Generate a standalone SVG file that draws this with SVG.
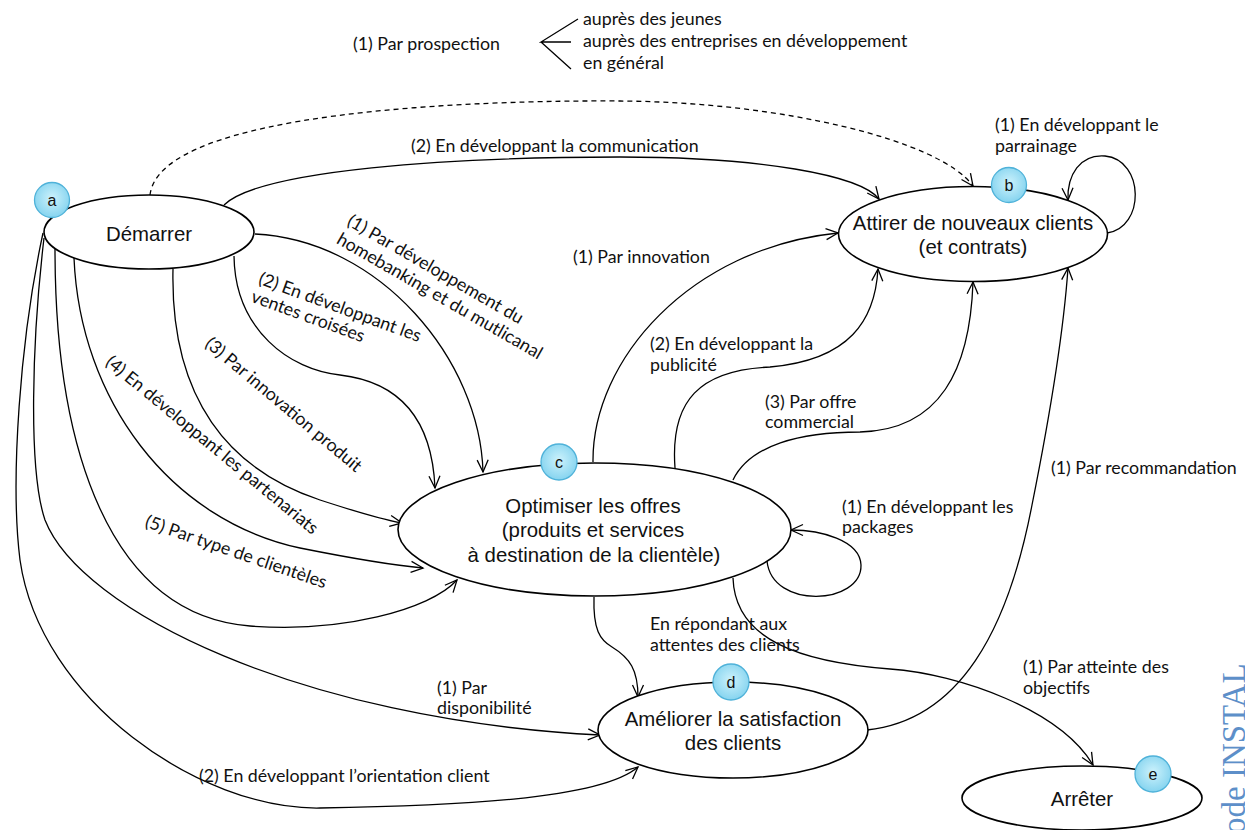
<svg xmlns="http://www.w3.org/2000/svg" width="1245" height="830" viewBox="0 0 1245 830">
  <defs>
    <style>
      .edge { fill: none; stroke: #000; stroke-width: 1.3; }
      .dash { stroke-dasharray: 5 4; }
      .node ellipse { fill: #fff; stroke: #000; stroke-width: 1.6; }
      .ntext { font-family: "Liberation Sans", Arial, sans-serif; font-size: 20.4px; fill: #111; text-anchor: middle; }
      .badge circle { fill: url(#cg); stroke: #4fb2d9; stroke-width: 1.3; }
      .badge text { font-family: "Liberation Sans", Arial, sans-serif; font-size: 16px; fill: #111; text-anchor: middle; }
      .lbl { font-family: Lato, "Open Sans", sans-serif; font-size: 17.8px; fill: #111; }
      .wm { font-family: "Liberation Serif", "Times New Roman", serif; font-size: 33px; fill: #5d8fc9; }
    </style>
    <radialGradient id="cg" cx="50%" cy="45%" r="60%">
      <stop offset="0" stop-color="#cdf2fc"/>
      <stop offset="1" stop-color="#7fd1ee"/>
    </radialGradient>
    <marker id="arr" markerUnits="userSpaceOnUse" markerWidth="14" markerHeight="12" refX="12" refY="6" orient="auto" overflow="visible">
      <path d="M0,0.5 L12,6 L0,11.5" fill="none" stroke="#000" stroke-width="1.3"/>
    </marker>
  </defs>

  <rect width="1245" height="830" fill="#fff"/>

  <!-- prospection note -->
  <g id="prospection">
    <text class="lbl" x="353" y="50">(1) Par prospection</text>
    <path class="edge" d="M578,19 L541,42 L571,42 M541,42 L571,69"/>
    <text class="lbl" x="583" y="25">auprès des jeunes</text>
    <text class="lbl" x="583" y="47">auprès des entreprises en développement</text>
    <text class="lbl" x="583" y="68.5">en général</text>
  </g>

  <!-- connectors -->
  <g id="connectors">
    <path class="edge dash" marker-end="url(#arr)" d="M150,195 C160,110 480,100 620,101 C780,102 940,140 973,186"/>
    <path class="edge" marker-end="url(#arr)" d="M224,205 C260,170 450,157 620,157 C760,157 860,175 879,199"/>
    <path class="edge" marker-end="url(#arr)" d="M1107,233 C1145,228 1145,160 1105,156 C1080,154 1067,175 1068,200"/>
    <path class="edge" marker-end="url(#arr)" d="M593,462 C592,360 690,248 838,233"/>
    <path class="edge" marker-end="url(#arr)" d="M675,468 C670,400 700,370 770,367 C850,360 875,320 878,269"/>
    <path class="edge" marker-end="url(#arr)" d="M733,480 C750,445 800,432 860,432 C940,430 970,370 973,282"/>
    <path class="edge" marker-end="url(#arr)" d="M867,730 C960,720 1008,630 1032,505 C1045,440 1063,340 1068,268"/>
    <path class="edge" marker-end="url(#arr)" d="M767,561 C772,610 862,605 861,565 C860,540 820,530 791,530"/>
    <path class="edge" marker-end="url(#arr)" d="M594,597 C593,630 600,640 612,647 C630,658 638,670 638,697"/>
    <path class="edge" marker-end="url(#arr)" d="M733,578 C735,640 800,662 890,669 C960,674 1060,710 1093,765"/>
    <path class="edge" marker-end="url(#arr)" d="M255,234 C380,240 480,360 483,472"/>
    <path class="edge" marker-end="url(#arr)" d="M234,256 C235,330 290,370 340,375 C400,382 432,420 435,488"/>
    <path class="edge" marker-end="url(#arr)" d="M173,269 C170,400 230,470 320,500 C360,513 385,520 402,523"/>
    <path class="edge" marker-end="url(#arr)" d="M74,258 C80,400 170,520 300,548 C350,558 390,565 423,568"/>
    <path class="edge" marker-end="url(#arr)" d="M55,249 C55,450 110,615 250,626 C340,633 430,610 457,580"/>
    <path class="edge" marker-end="url(#arr)" d="M44,238 C32,340 28,470 45,520 C80,610 300,720 600,735"/>
    <path class="edge" marker-end="url(#arr)" d="M43,233 C20,340 10,480 20,560 C40,700 200,810 320,808 C450,806 600,800 638,767"/>
  </g>

  <!-- nodes -->
  <g id="node-demarrer" class="node">
    <ellipse cx="149" cy="232" rx="105" ry="37"/>
    <text class="ntext" x="149" y="241">Démarrer</text>
  </g>
  <g id="node-attirer" class="node">
    <ellipse cx="973" cy="234" rx="134.5" ry="47.5"/>
    <text class="ntext" x="973" y="230">Attirer de nouveaux clients</text>
    <text class="ntext" x="973" y="253.5">(et contrats)</text>
  </g>
  <g id="node-optimiser" class="node">
    <ellipse cx="594.5" cy="529.5" rx="196.5" ry="66.5"/>
    <text class="ntext" x="593" y="512.5">Optimiser les offres</text>
    <text class="ntext" x="593" y="537">(produits et services</text>
    <text class="ntext" x="594" y="561.5">à destination de la clientèle)</text>
  </g>
  <g id="node-ameliorer" class="node">
    <ellipse cx="733" cy="730" rx="135" ry="48"/>
    <text class="ntext" x="733" y="726">Améliorer la satisfaction</text>
    <text class="ntext" x="733" y="750">des clients</text>
  </g>
  <g id="node-arreter" class="node">
    <ellipse cx="1082" cy="798" rx="120" ry="32"/>
    <text class="ntext" x="1082" y="806">Arrêter</text>
  </g>

  <!-- badges -->
  <g id="badge-a" class="badge"><circle cx="52" cy="200" r="17.5"/><text x="52" y="206">a</text></g>
  <g id="badge-b" class="badge"><circle cx="1009" cy="185" r="17.5"/><text x="1009" y="191">b</text></g>
  <g id="badge-c" class="badge"><circle cx="559" cy="462" r="18"/><text x="559" y="468">c</text></g>
  <g id="badge-d" class="badge"><circle cx="731" cy="682" r="18"/><text x="731" y="688">d</text></g>
  <g id="badge-e" class="badge"><circle cx="1153" cy="774" r="18"/><text x="1153" y="780">e</text></g>

  <!-- connector labels -->
  <g id="labels">
    <text class="lbl" x="411" y="152">(2) En développant la communication</text>
    <text class="lbl" x="995" y="131">(1) En développant le</text>
    <text class="lbl" x="995" y="152">parrainage</text>
    <text class="lbl" x="573" y="263">(1) Par innovation</text>
    <text class="lbl" x="650" y="350">(2) En développant la</text>
    <text class="lbl" x="650" y="370.5">publicité</text>
    <text class="lbl" x="765" y="407.5">(3) Par offre</text>
    <text class="lbl" x="765" y="428">commercial</text>
    <text class="lbl" x="1051" y="474">(1) Par recommandation</text>
    <text class="lbl" x="842" y="512.5">(1) En développant les</text>
    <text class="lbl" x="842" y="533">packages</text>
    <text class="lbl" x="650" y="630">En répondant aux</text>
    <text class="lbl" x="650" y="651">attentes des clients</text>
    <text class="lbl" x="1023" y="673">(1) Par atteinte des</text>
    <text class="lbl" x="1023" y="694">objectifs</text>
    <text class="lbl" x="437" y="694">(1) Par</text>
    <text class="lbl" x="437" y="714">disponibilité</text>
    <text class="lbl" x="199" y="782">(2) En développant l’orientation client</text>
    <text class="lbl" transform="translate(346,224.5) rotate(30)">(1) Par développement du</text>
    <text class="lbl" transform="translate(335.5,242.7) rotate(30)">homebanking et du mutlicanal</text>
    <text class="lbl" transform="translate(257.5,283.5) rotate(20)">(2) En développant les</text>
    <text class="lbl" transform="translate(250,301.5) rotate(20)">ventes croisées</text>
    <text class="lbl" transform="translate(204,345.5) rotate(40)">(3) Par innovation produit</text>
    <text class="lbl" transform="translate(104.5,364) rotate(39.5)">(4) En développant les partenariats</text>
    <text class="lbl" transform="translate(144,526.5) rotate(19)">(5) Par type de clientèles</text>
  </g>

  <text class="wm" transform="translate(1245,834) rotate(-90)">ode INSTAL</text>
</svg>
